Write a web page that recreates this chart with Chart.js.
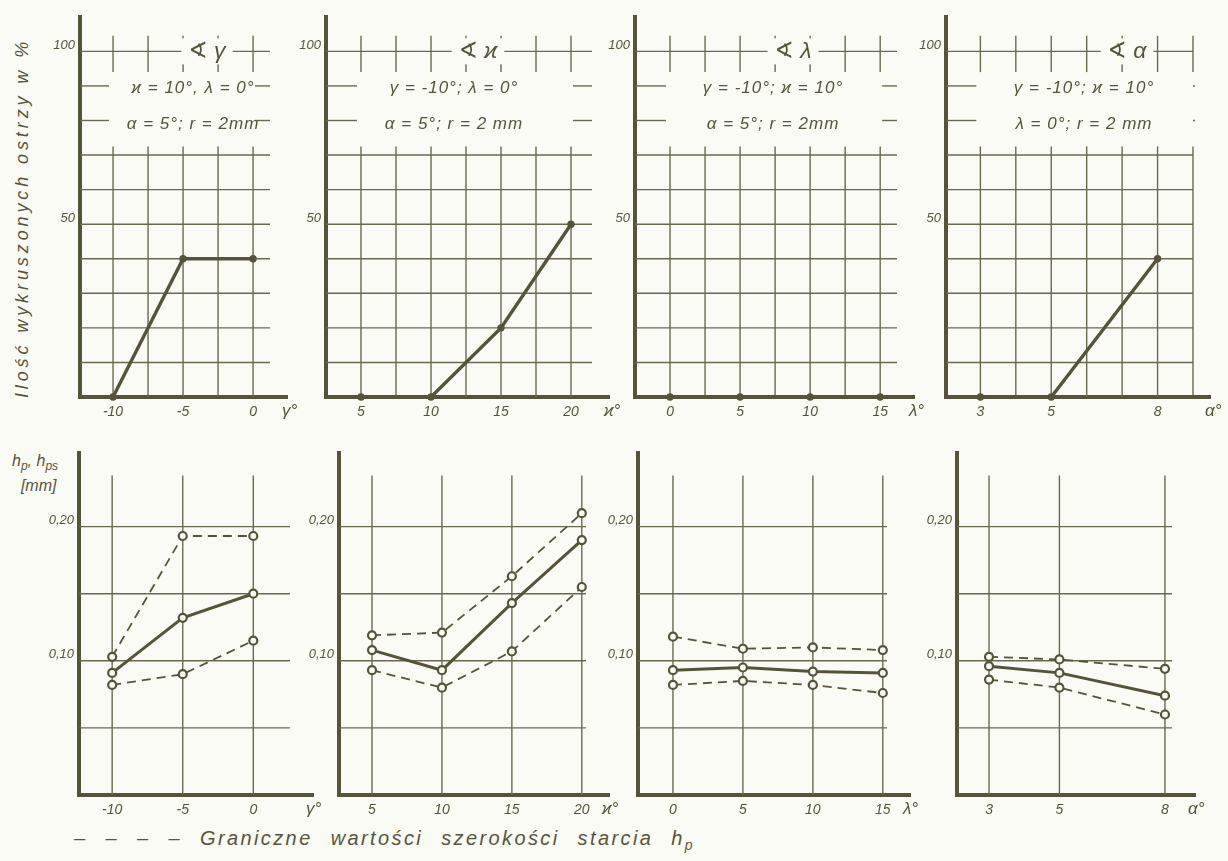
<!DOCTYPE html>
<html lang="pl">
<head>
<meta charset="utf-8">
<title>Wykruszenia ostrzy i szerokość starcia</title>
<script src="https://cdn.jsdelivr.net/npm/chart.js@4.4.1/dist/chart.umd.min.js"></script>
<style>
  html, body { margin: 0; padding: 0; background: #fbfbf6; }
  body { width: 1228px; height: 861px; position: relative; overflow: hidden;
         font-family: 'Liberation Sans', 'DejaVu Sans', sans-serif; font-style: italic; color: #56553b; }
  canvas { position: absolute; }
  .ytitle { position: absolute; left: 22px; top: 218px; transform: translate(-50%, -50%) rotate(-90deg);
            white-space: nowrap; font-size: 18px; letter-spacing: 3.9px; }
  .hlabel { position: absolute; left: 12px; top: 451px; font-size: 16px; line-height: 19px; }
  .hlabel sub { font-size: 12px; }
  .legend { position: absolute; left: 74px; top: 827px; font-size: 20px; letter-spacing: 2.4px; word-spacing: 10px; white-space: nowrap; }
  .legend sub { font-size: 14px; }
</style>
</head>
<body>
<div class="ytitle">Ilość wykruszonych ostrzy w %</div>
<div class="hlabel">h<sub>p</sub>, h<sub>ps</sub><br>&nbsp;&nbsp;[mm]</div>
<div class="legend">– – – – Graniczne wartości szerokości starcia h<sub>p</sub></div>

<script>
// górny rząd: ilość wykruszonych ostrzy [%]
const gammaVals = [-10, -5, 0];
const gammaPct = [0, 40, 40];
const kappaVals = [5, 10, 15, 20];
const kappaPct = [0, 0, 20, 50];
const lambdaVals = [0, 5, 10, 15];
const lambdaPct = [0, 0, 0, 0];
const alphaVals = [3, 5, 8];
const alphaPct = [0, 0, 40];

// dolny rząd: szerokość starcia hp [mm] (średnia, granica górna, granica dolna)
const gammaHp = [0.091, 0.132, 0.150];
const gammaHpMax = [0.103, 0.193, 0.193];
const gammaHpMin = [0.082, 0.090, 0.115];
const kappaHp = [0.108, 0.093, 0.143, 0.190];
const kappaHpMax = [0.119, 0.121, 0.163, 0.210];
const kappaHpMin = [0.093, 0.080, 0.107, 0.155];
const lambdaHp = [0.093, 0.095, 0.092, 0.091];
const lambdaHpMax = [0.118, 0.109, 0.110, 0.108];
const lambdaHpMin = [0.082, 0.085, 0.082, 0.076];
const alphaHp = [0.096, 0.091, 0.074];
const alphaHpMax = [0.103, 0.101, 0.094];
const alphaHpMin = [0.086, 0.080, 0.060];

// siatka i opisy osi
const gammaGrid = [-10, -7.5, -5, -2.5, 0];
const kappaGrid = [5, 7.5, 10, 12.5, 15, 17.5, 20];
const lambdaGrid = [0, 2.5, 5, 7.5, 10, 12.5, 15];
const alphaGrid = [3, 4, 5, 6, 7, 8, 9];
const pctGrid = [10, 20, 30, 40, 50, 60, 70, 80, 90, 100];
const pctLabelled = [50, 100];
const hpGrid = [0.05, 0.10, 0.15, 0.20];
const hpLabelled = [0.10, 0.20];

const INK = '#55543a';
const GRID = '#6a6950';
const BG = '#fbfbf6';
const FONT = "'Liberation Sans', 'DejaVu Sans', sans-serif";
const YW = 46, XH = 30, PAD_T = 8, PAD_R = 46;

const topPanels = [
  { box: [80, 12, 270, 397], xr: [-12.36, 1.21], xs: gammaVals, ys: gammaPct, grid: gammaGrid, labels: gammaVals,
    sym: 'γ°', title: '∢ γ', titleX: 127, noteX: 113, notes: ['ϰ = 10°, λ = 0°', 'α = 5°; r = 2mm'] },
  { box: [326, 12, 592, 397], xr: [2.5, 21.5], xs: kappaVals, ys: kappaPct, grid: kappaGrid, labels: kappaVals,
    sym: 'ϰ°', title: '∢ ϰ', titleX: 152, noteX: 128, notes: ['γ = -10°; λ = 0°', 'α = 5°; r = 2 mm'] },
  { box: [635, 12, 897, 397], xr: [-2.5, 16.2], xs: lambdaVals, ys: lambdaPct, grid: lambdaGrid, labels: lambdaVals,
    sym: 'λ°', title: '∢ λ', titleX: 158, noteX: 138, notes: ['γ = -10°; ϰ = 10°', 'α = 5°; r = 2mm'] },
  { box: [946, 12, 1193, 397], xr: [2.03, 9], xs: alphaVals, ys: alphaPct, grid: alphaGrid, labels: alphaVals,
    sym: 'α°', title: '∢ α', titleX: 181, noteX: 138, notes: ['γ = -10°; ϰ = 10°', 'λ = 0°; r = 2 mm'] }
];

const bottomPanels = [
  { box: [79, 448, 290, 795], xr: [-12.35, 2.6], xs: gammaVals, ys: [gammaHpMax, gammaHpMin, gammaHp], sym: 'γ°' },
  { box: [339, 448, 586, 795], xr: [2.64, 20.3], xs: kappaVals, ys: [kappaHpMax, kappaHpMin, kappaHp], sym: 'ϰ°' },
  { box: [638, 448, 887, 795], xr: [-2.5, 15.3], xs: lambdaVals, ys: [lambdaHpMax, lambdaHpMin, lambdaHp], sym: 'λ°' },
  { box: [957, 448, 1172, 795], xr: [2.09, 8.2], xs: alphaVals, ys: [alphaHpMax, alphaHpMin, alphaHp], sym: 'α°' }
];

const hasValue = (list, v) => list.some(l => Math.abs(l - v) < 1e-9);
const toPoints = (xs, ys) => xs.map((x, i) => ({ x: x, y: ys[i] }));

function line(ctx, x0, y0, x1, y1) {
  ctx.beginPath();
  ctx.moveTo(x0, y0);
  ctx.lineTo(x1, y1);
  ctx.stroke();
}

// siatka rysowana odcinkami (przerwy pod opisami), strzałki i opisy osi
function makeDecor(p, isTop) {
  return {
    id: 'decor',
    beforeDatasetsDraw(chart) {
      const { ctx, chartArea: a, scales: { x, y } } = chart;
      ctx.save();
      ctx.strokeStyle = GRID;
      ctx.lineWidth = 1.4;
      if (isTop) {
        const gx0 = x.getPixelForValue(p.grid[0]);
        const gx1 = x.getPixelForValue(p.grid[p.grid.length - 1]);
        pctGrid.forEach(v => {
          const py = y.getPixelForValue(v);
          if (v > 75 && v < 95) {
            line(ctx, a.left, py, gx0 - 4, py);
            line(ctx, gx1 + 2, py, a.right, py);
          } else {
            line(ctx, a.left, py, a.right, py);
          }
        });
        p.grid.forEach(g => {
          const px = x.getPixelForValue(g);
          line(ctx, px, a.bottom, px, y.getPixelForValue(72.5));
          line(ctx, px, y.getPixelForValue(94), px, y.getPixelForValue(104.5));
        });
      } else {
        hpGrid.forEach(v => {
          const py = y.getPixelForValue(v);
          line(ctx, a.left, py, a.right, py);
        });
        p.xs.forEach(g => {
          const px = x.getPixelForValue(g);
          line(ctx, px, a.bottom, px, y.getPixelForValue(0.238));
        });
      }
      ctx.restore();
    },
    afterDraw(chart) {
      const { ctx, chartArea: a, scales: { y } } = chart;
      ctx.save();
      ctx.strokeStyle = INK;
      ctx.lineWidth = 4;
      line(ctx, a.right - 2, a.bottom, a.right + (isTop ? 18 : 24), a.bottom);
      ctx.fillStyle = INK;
      ctx.font = 'italic 17px ' + FONT;
      ctx.textAlign = 'left';
      ctx.textBaseline = 'middle';
      ctx.fillText(p.sym, a.right + (isTop ? 12 : 16), a.bottom + 14);

      if (isTop) {
        ctx.font = 'italic 23px ' + FONT;
        ctx.textAlign = 'center';
        const ty = y.getPixelForValue(100);
        const w = ctx.measureText(p.title).width + 14;
        ctx.fillStyle = BG;
        ctx.fillRect(a.left + p.titleX - w / 2, ty - 13, w, 26);
        ctx.fillStyle = INK;
        ctx.fillText(p.title, a.left + p.titleX, ty);
        ctx.font = 'italic 17px ' + FONT;
        ctx.letterSpacing = '1px';
        ctx.fillText(p.notes[0], a.left + p.noteX, y.getPixelForValue(89.2));
        ctx.fillText(p.notes[1], a.left + p.noteX, y.getPixelForValue(78.8));
      }
      ctx.restore();
    }
  };
}

function makeChart(p, isTop) {
  const [L, T, R, B] = p.box;
  const canvas = document.createElement('canvas');
  const w = R - L + YW + PAD_R, h = B - T + PAD_T + XH;
  canvas.style.left = (L - YW) + 'px';
  canvas.style.top = (T - PAD_T) + 'px';
  canvas.style.width = w + 'px';
  canvas.style.height = h + 'px';
  canvas.width = w;
  canvas.height = h;
  document.body.appendChild(canvas);

  const datasets = isTop
    ? [{ data: toPoints(p.xs, p.ys), borderColor: INK, borderWidth: 3.4, pointRadius: 2,
         pointBackgroundColor: INK, pointBorderColor: INK, clip: false }]
    : p.ys.map((ys, i) => ({
        data: toPoints(p.xs, ys),
        borderColor: INK,
        borderWidth: i === 2 ? 3 : 1.8,
        borderDash: i === 2 ? [] : [9, 6],
        pointRadius: 4,
        pointBorderWidth: 2.2,
        pointBackgroundColor: BG,
        pointBorderColor: INK,
        clip: false
      }));

  const xTicks = isTop ? p.grid : p.xs;
  const xLabels = isTop ? p.labels : p.xs;
  const yTicks = isTop ? pctGrid : hpGrid;
  const yLabels = isTop ? pctLabelled : hpLabelled;

  return new Chart(canvas, {
    type: 'line',
    data: { datasets: datasets },
    options: {
      responsive: false,
      animation: false,
      layout: { padding: { top: PAD_T, right: PAD_R, left: 0, bottom: 0 } },
      plugins: { legend: { display: false }, tooltip: { enabled: false } },
      scales: {
        x: {
          type: 'linear',
          min: p.xr[0],
          max: p.xr[1],
          afterBuildTicks: axis => { axis.ticks = xTicks.map(v => ({ value: v })); },
          afterFit: axis => { axis.height = XH; },
          grid: { display: false, drawTicks: false },
          border: { display: true, color: INK, width: 4 },
          ticks: {
            color: INK, font: { family: FONT, size: 14, style: 'italic' }, padding: 7, maxRotation: 0, autoSkip: false,
            callback: v => hasValue(xLabels, v) ? String(v) : ''
          }
        },
        y: {
          type: 'linear',
          min: 0,
          max: isTop ? 110 : 0.255,
          afterBuildTicks: axis => { axis.ticks = yTicks.map(v => ({ value: v })); },
          afterFit: axis => { axis.width = YW; },
          grid: { display: false, drawTicks: false },
          border: { display: true, color: INK, width: 4 },
          ticks: {
            color: INK, font: { family: FONT, size: 13, style: 'italic' }, padding: 5, labelOffset: -6, autoSkip: false,
            callback: v => hasValue(yLabels, v) ? (isTop ? String(v) : v.toFixed(2).replace('.', ',')) : ''
          }
        }
      }
    },
    plugins: [makeDecor(p, isTop)]
  });
}

topPanels.forEach(p => makeChart(p, true));
bottomPanels.forEach(p => makeChart(p, false));
</script>
</body>
</html>
